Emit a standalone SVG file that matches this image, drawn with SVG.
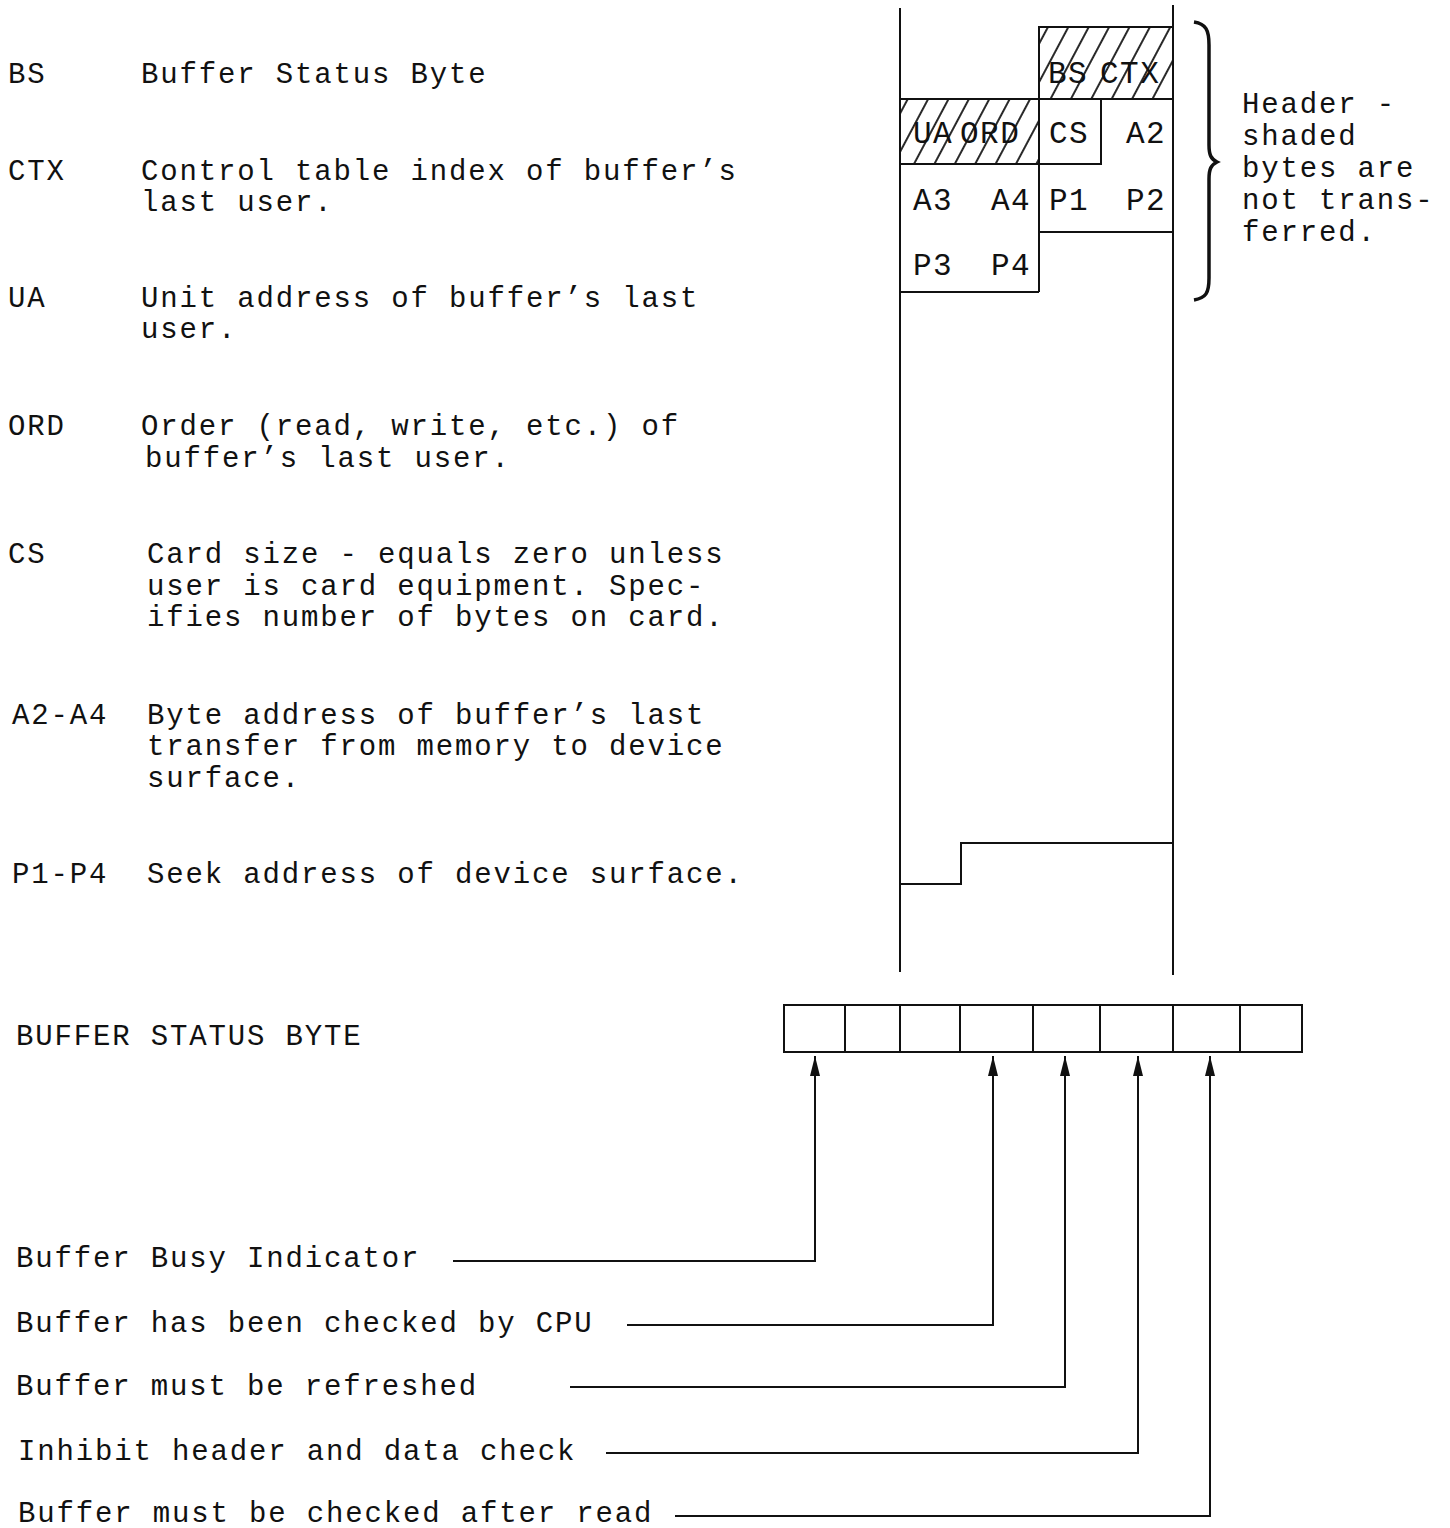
<svg xmlns="http://www.w3.org/2000/svg" width="1450" height="1528" viewBox="0 0 1450 1528">
<style>
.t{font-family:"Liberation Mono","DejaVu Sans Mono",monospace;font-size:29px;letter-spacing:1.85px;fill:#111}
.c{font-family:"Liberation Mono","DejaVu Sans Mono",monospace;font-size:31px;letter-spacing:1.5px;fill:#111}
.ln{stroke:#111;stroke-width:2;fill:none}
.hb{stroke:#111;stroke-width:2;fill:url(#hatch)}
</style>
<defs>
<pattern id="hatch" patternUnits="userSpaceOnUse" width="18" height="18" patternTransform="rotate(28)">
<line x1="2" y1="0" x2="2" y2="18" stroke="#111" stroke-width="1.8"/>
</pattern>
<marker id="arr" viewBox="0 0 20 10" refX="20" refY="5" markerWidth="20" markerHeight="10" markerUnits="userSpaceOnUse" orient="auto">
<path d="M0,0 L20,5 L0,10 z" fill="#111"/>
</marker>
</defs>
<rect width="1450" height="1528" fill="#fff"/>

<g id="legend">
<text class="t" x="8" y="83">BS</text><text class="t" x="141" y="83">Buffer Status Byte</text>
<text class="t" x="8" y="180">CTX</text><text class="t" x="141" y="180">Control table index of buffer’s</text>
<text class="t" x="141" y="211">last user.</text>
<text class="t" x="8" y="307">UA</text><text class="t" x="141" y="307">Unit address of buffer’s last</text>
<text class="t" x="141" y="338">user.</text>
<text class="t" x="8" y="435">ORD</text><text class="t" x="141" y="435">Order (read, write, etc.) of</text>
<text class="t" x="145" y="467">buffer’s last user.</text>
<text class="t" x="8" y="563">CS</text><text class="t" x="147" y="563">Card size - equals zero unless</text>
<text class="t" x="147" y="595">user is card equipment.  Spec-</text>
<text class="t" x="147" y="626">ifies number of bytes on card.</text>
<text class="t" x="12" y="724">A2-A4</text><text class="t" x="147" y="724">Byte address of buffer’s last</text>
<text class="t" x="147" y="755">transfer from memory to device</text>
<text class="t" x="147" y="787">surface.</text>
<text class="t" x="12" y="883">P1-P4</text><text class="t" x="147" y="883">Seek address of device surface.</text>
</g>

<g id="buffer-table">
<line class="ln" x1="900" y1="8" x2="900" y2="972"/>
<line class="ln" x1="1173" y1="5" x2="1173" y2="975"/>
<rect x="1039" y="27" width="134" height="72" class="hb"/>
<rect x="900" y="99" width="139" height="65" class="hb"/>
<rect x="1039" y="99" width="62" height="65" class="ln"/>
<line class="ln" x1="1039" y1="27" x2="1039" y2="292"/>
<polyline class="ln" points="900,292 1039,292"/>
<polyline class="ln" points="1039,232 1173,232"/>
<polyline class="ln" points="900,884 961,884 961,843 1173,843"/>
<text class="c" x="1048" y="83">BS</text><text class="c" x="1100" y="83">CTX</text>
<text class="c" x="913" y="143">UA</text><text class="c" x="960" y="143">ORD</text>
<text class="c" x="1049" y="143">CS</text><text class="c" x="1126" y="143">A2</text>
<text class="c" x="913" y="210">A3</text><text class="c" x="991" y="210">A4</text>
<text class="c" x="1049" y="210">P1</text><text class="c" x="1126" y="210">P2</text>
<text class="c" x="913" y="275">P3</text><text class="c" x="991" y="275">P4</text>
</g>

<g id="header-note">
<path d="M1194,22 C1206,24 1209,30 1209,45 L1209,145 C1209,155 1211,159 1217,162 C1211,165 1209,169 1209,179 L1209,278 C1209,293 1206,298 1194,300" stroke="#111" stroke-width="3.5" fill="none"/>
<text class="t" x="1242" y="113">Header -</text>
<text class="t" x="1242" y="145">shaded</text>
<text class="t" x="1242" y="177">bytes are</text>
<text class="t" x="1242" y="209">not trans-</text>
<text class="t" x="1242" y="241">ferred.</text>
</g>

<g id="status-byte">
<text class="t" x="16" y="1045">BUFFER STATUS BYTE</text>
<rect x="784" y="1005" width="518" height="47" class="ln"/>
<line class="ln" x1="845" y1="1005" x2="845" y2="1052"/>
<line class="ln" x1="900" y1="1005" x2="900" y2="1052"/>
<line class="ln" x1="960" y1="1005" x2="960" y2="1052"/>
<line class="ln" x1="1033" y1="1005" x2="1033" y2="1052"/>
<line class="ln" x1="1100" y1="1005" x2="1100" y2="1052"/>
<line class="ln" x1="1173" y1="1005" x2="1173" y2="1052"/>
<line class="ln" x1="1240" y1="1005" x2="1240" y2="1052"/>
</g>

<g id="bit-labels">
<text class="t" x="16" y="1267">Buffer Busy Indicator</text>
<text class="t" x="16" y="1332">Buffer has been checked by CPU</text>
<text class="t" x="16" y="1395">Buffer must be refreshed</text>
<text class="t" x="18" y="1460">Inhibit header and data check</text>
<text class="t" x="18" y="1522">Buffer must be checked after read</text>
</g>

<g id="connectors">
<polyline class="ln" points="453,1261 815,1261 815,1056" marker-end="url(#arr)"/>
<polyline class="ln" points="627,1325 993,1325 993,1056" marker-end="url(#arr)"/>
<polyline class="ln" points="570,1387 1065,1387 1065,1056" marker-end="url(#arr)"/>
<polyline class="ln" points="606,1453 1138,1453 1138,1056" marker-end="url(#arr)"/>
<polyline class="ln" points="675,1516 1210,1516 1210,1056" marker-end="url(#arr)"/>
</g>
</svg>
